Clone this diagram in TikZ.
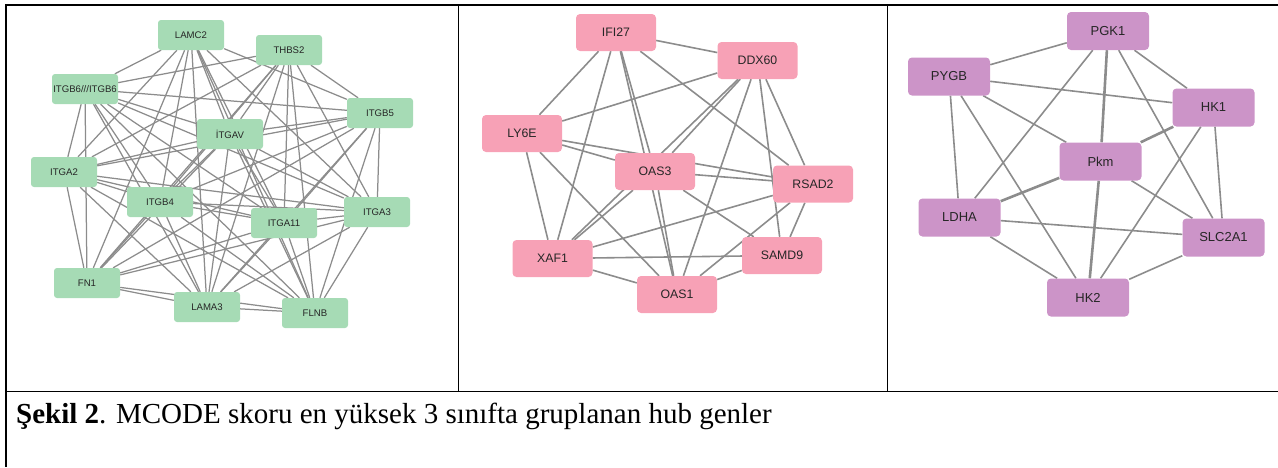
\documentclass[tikz,border=0pt]{standalone}
\usepackage{fontspec}
\setmainfont{Liberation Serif}
\setsansfont{Liberation Sans}
\usetikzlibrary{backgrounds}

\definecolor{hubgreen}{RGB}{166,219,181}
\definecolor{hubpink}{RGB}{247,161,182}
\definecolor{hubpurple}{RGB}{204,148,200}
\definecolor{linkgray}{RGB}{140,140,140}

\tikzset{
  gene/.style={rectangle, rounded corners=3pt, inner sep=0pt, text=black!85},
  greengene/.style={gene, fill=hubgreen, minimum width=66pt, minimum height=30pt,
    font=\sffamily\fontsize{9.6}{10}\selectfont},
  pinkgene/.style={gene, fill=hubpink, minimum width=80pt, minimum height=37pt,
    rounded corners=4pt, font=\sffamily\fontsize{12.3}{13}\selectfont},
  purplegene/.style={gene, fill=hubpurple, minimum width=82pt, minimum height=38pt,
    rounded corners=4pt, font=\sffamily\fontsize{13}{14}\selectfont},
  link/.style={draw=linkgray, line width=1.25pt},
  widelink/.style={link, line width=1.6pt},
  heavylink/.style={link, line width=2.6pt},
  rule/.style={line width=1.5pt}
}

\begin{document}
\begin{tikzpicture}[x=1pt,y=-1pt]
  \useasboundingbox (0,0) rectangle (1278,467);

  % table rules
  \draw[rule] (5,4.8) -- (1278,4.8);
  \draw[rule] (6,4) -- (6,467);
  \draw[rule] (458.5,4) -- (458.5,392);
  \draw[rule] (887.5,4) -- (887.5,392);
  \draw[rule] (5,391.5) -- (1278,391.5);

  % first cluster
  \node[greengene] (lamc2) at (191,35) {LAMC2};
  \node[greengene] (thbs2) at (289,50) {THBS2};
  \node[greengene] (itgb6) at (85,89) {ITGB6///ITGB6};
  \node[greengene] (itgb5) at (380,113) {ITGB5};
  \node[greengene] (itgav) at (230,134) {İTGAV};
  \node[greengene] (itga2) at (64,172) {ITGA2};
  \node[greengene] (itgb4) at (160,202) {ITGB4};
  \node[greengene] (itga11) at (284,223) {ITGA11};
  \node[greengene] (itga3) at (377,212) {ITGA3};
  \node[greengene] (fn1) at (87,283) {FN1};
  \node[greengene] (lama3) at (207,307) {LAMA3};
  \node[greengene] (flnb) at (315,313) {FLNB};

  % second cluster
  \node[pinkgene] (ifi27) at (616,32.5) {IFI27};
  \node[pinkgene] (ddx60) at (757.5,60.5) {DDX60};
  \node[pinkgene] (ly6e) at (522,133.5) {LY6E};
  \node[pinkgene] (oas3) at (655,171.5) {OAS3};
  \node[pinkgene] (rsad2) at (813,184) {RSAD2};
  \node[pinkgene] (xaf1) at (552.5,258.5) {XAF1};
  \node[pinkgene] (samd9) at (782,255.5) {SAMD9};
  \node[pinkgene] (oas1) at (677,294.5) {OAS1};

  % third cluster
  \node[purplegene] (pgk1) at (1108,31) {PGK1};
  \node[purplegene] (pygb) at (949,76.5) {PYGB};
  \node[purplegene] (hk1) at (1213.5,107.5) {HK1};
  \node[purplegene] (pkm) at (1100.5,161.5) {Pkm};
  \node[purplegene] (ldha) at (959.5,217.5) {LDHA};
  \node[purplegene] (slc2a1) at (1223.5,237.5) {SLC2A1};
  \node[purplegene] (hk2) at (1088,297.5) {HK2};

  \node[anchor=base west, inner sep=0pt, font=\fontsize{29}{32}\selectfont] (caption) at (16,423)
    {\textbf{Şekil 2}. MCODE skoru en yüksek 3 sınıfta gruplanan hub genler};

  \begin{scope}[on background layer]
    % first cluster links
    \draw[link] (lamc2) -- (itgb6);
    \draw[link] (lamc2) -- (itgb5);
    \draw[link] (lamc2) -- (itgav);
    \draw[link] (lamc2) -- (itga2);
    \draw[link] (lamc2) -- (itgb4);
    \draw[link] (lamc2) -- (itga11);
    \draw[link] (lamc2) -- (itga3);
    \draw[link] (lamc2) -- (fn1);
    \draw[link] (lamc2) -- (lama3);
    \draw[link] (lamc2) -- (flnb);
    \draw[link] (thbs2) -- (itgb6);
    \draw[link] (thbs2) -- (itgb5);
    \draw[link] (thbs2) -- (itgav);
    \draw[link] (thbs2) -- (itga2);
    \draw[link] (thbs2) -- (itgb4);
    \draw[link] (thbs2) -- (itga11);
    \draw[link] (thbs2) -- (itga3);
    \draw[link] (thbs2) -- (fn1);
    \draw[link] (thbs2) -- (lama3);
    \draw[link] (thbs2) -- (flnb);
    \draw[link] (itgb6) -- (itgb5);
    \draw[link] (itgb6) -- (itgav);
    \draw[link] (itgb6) -- (itga2);
    \draw[link] (itgb6) -- (itgb4);
    \draw[link] (itgb6) -- (itga11);
    \draw[link] (itgb6) -- (itga3);
    \draw[link] (itgb6) -- (fn1);
    \draw[link] (itgb6) -- (lama3);
    \draw[link] (itgb6) -- (flnb);
    \draw[link] (itgb5) -- (itgav);
    \draw[link] (itgb5) -- (itga2);
    \draw[link] (itgb5) -- (itgb4);
    \draw[link] (itgb5) -- (itga11);
    \draw[link] (itgb5) -- (itga3);
    \draw[link] (itgb5) -- (fn1);
    \draw[link] (itgb5) -- (lama3);
    \draw[link] (itgb5) -- (flnb);
    \draw[link] (itgav) -- (itga2);
    \draw[link] (itgav) -- (itgb4);
    \draw[link] (itgav) -- (itga11);
    \draw[link] (itgav) -- (itga3);
    \draw[link] (itgav) -- (fn1);
    \draw[link] (itgav) -- (lama3);
    \draw[link] (itgav) -- (flnb);
    \draw[link] (itga2) -- (itgb4);
    \draw[link] (itga2) -- (itga11);
    \draw[link] (itga2) -- (itga3);
    \draw[link] (itga2) -- (fn1);
    \draw[link] (itga2) -- (lama3);
    \draw[link] (itga2) -- (flnb);
    \draw[link] (itgb4) -- (itga11);
    \draw[link] (itgb4) -- (itga3);
    \draw[link] (itgb4) -- (fn1);
    \draw[link] (itgb4) -- (lama3);
    \draw[link] (itgb4) -- (flnb);
    \draw[link] (itga11) -- (itga3);
    \draw[link] (itga11) -- (fn1);
    \draw[link] (itga11) -- (lama3);
    \draw[link] (itga11) -- (flnb);
    \draw[link] (itga3) -- (fn1);
    \draw[link] (itga3) -- (lama3);
    \draw[link] (itga3) -- (flnb);
    \draw[link] (fn1) -- (lama3);
    \draw[link] (fn1) -- (flnb);
    \draw[link] (lama3) -- (flnb);

    % second cluster links
    \draw[widelink] (ifi27) -- (ddx60);
    \draw[widelink] (ifi27) -- (ly6e);
    \draw[widelink] (ifi27) -- (xaf1);
    \draw[widelink] (ifi27) -- (oas3);
    \draw[widelink] (ifi27) -- (oas1);
    \draw[widelink] (ifi27) -- (rsad2);
    \draw[widelink] (ddx60) -- (ly6e);
    \draw[widelink] (ddx60) -- (oas3);
    \draw[widelink] (ddx60) -- (xaf1);
    \draw[widelink] (ddx60) -- (oas1);
    \draw[widelink] (ddx60) -- (samd9);
    \draw[widelink] (ddx60) -- (rsad2);
    \draw[widelink] (ly6e) -- (oas3);
    \draw[widelink] (ly6e) -- (rsad2);
    \draw[widelink] (ly6e) -- (xaf1);
    \draw[widelink] (ly6e) -- (oas1);
    \draw[widelink] (oas3) -- (rsad2);
    \draw[widelink] (oas3) -- (xaf1);
    \draw[widelink] (oas3) -- (oas1);
    \draw[widelink] (oas3) -- (samd9);
    \draw[widelink] (rsad2) -- (xaf1);
    \draw[widelink] (rsad2) -- (oas1);
    \draw[widelink] (rsad2) -- (samd9);
    \draw[widelink] (xaf1) -- (samd9);
    \draw[widelink] (xaf1) -- (oas1);
    \draw[widelink] (samd9) -- (oas1);

    % third cluster links
    \draw[widelink] (pgk1) -- (pygb);
    \draw[widelink] (pgk1) -- (hk1);
    \draw[widelink] (pgk1) -- (ldha);
    \draw[heavylink] (pgk1) -- (pkm);
    \draw[widelink] (pgk1) -- (slc2a1);
    \draw[widelink] (pygb) -- (hk1);
    \draw[widelink] (pygb) -- (pkm);
    \draw[widelink] (pygb) -- (ldha);
    \draw[widelink] (pygb) -- (hk2);
    \draw[heavylink] (hk1) -- (pkm);
    \draw[widelink] (hk1) -- (slc2a1);
    \draw[widelink] (hk1) -- (hk2);
    \draw[heavylink] (pkm) -- (ldha);
    \draw[widelink] (pkm) -- (slc2a1);
    \draw[heavylink] (pkm) -- (hk2);
    \draw[widelink] (ldha) -- (slc2a1);
    \draw[widelink] (ldha) -- (hk2);
    \draw[widelink] (slc2a1) -- (hk2);
  \end{scope}
\end{tikzpicture}
\end{document}
